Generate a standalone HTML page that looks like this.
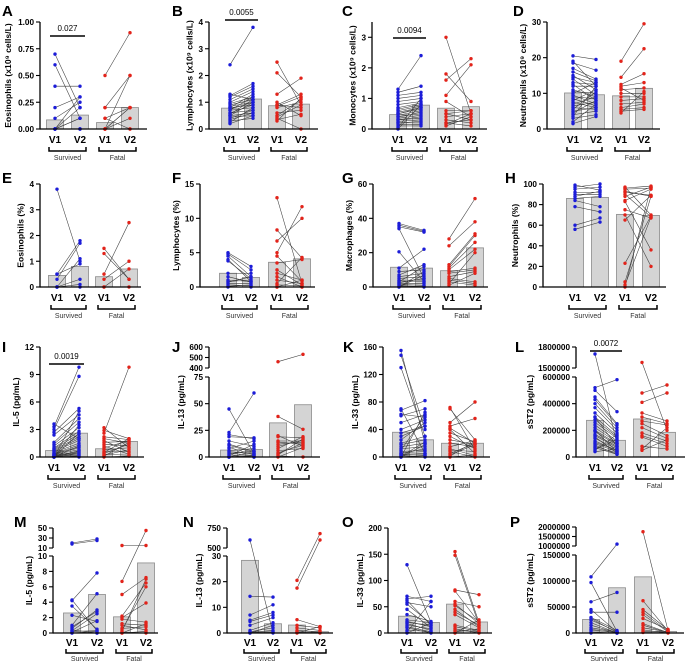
<!DOCTYPE html>
<html><head><meta charset="utf-8"><style>
html,body{margin:0;padding:0;background:#fff;}
svg{display:block;font-family:"Liberation Sans",Arial,sans-serif;}
</style></head><body>
<svg id="fig" width="685" height="666" viewBox="0 0 685 666"></svg>
<script>
// ---- data ----
const groupLabels=["V1","V2","V1","V2"];
const A_bars=[0.085,0.13,0.06,0.2];
const A_s1=[0.7,0.6,0.4,0.2,0.1,0,0,0,0,0,0,0];
const A_s2=[0.2,0.1,0.4,0.3,0.25,0.2,0.1,0,0,0.3,0.1,0];
const A_f1=[0.5,0.2,0.2,0.1,0.1,0,0,0,0,0];
const A_f2=[0.9,0.5,0.2,0,0.2,0.2,0.1,0.2,0.5,0];
const B_bars=[0.78,1.12,0.87,0.93];
const B_s1=[2.4,1.3,1.25,1.2,1.1,1.0,0.95,0.9,0.85,0.8,0.8,0.75,0.7,0.7,0.6,0.6,0.55,0.5,0.5,0.45,0.4,0.35,0.3,0.25,0.2];
const B_s2=[3.8,1.1,1.7,1.6,1.5,1.4,1.2,1.1,1.0,0.9,1.3,1.0,0.8,1.2,0.9,0.7,1.1,0.6,1.0,0.5,0.7,0.6,0.4,0.8,0.5];
const B_f1=[2.5,2.1,1.3,1.0,0.9,0.85,0.8,0.6,0.5,0.45,0.4,0.35,0.3,0.9];
const B_f2=[0.9,1.2,1.9,0.5,1.3,1.2,1.0,0.7,1.1,0.9,0,0.55,1.15,0.8];
const C_bars=[0.47,0.78,0.68,0.73];
const C_s1=[1.3,1.2,1.1,1.0,0.9,0.8,0.7,0.65,0.6,0.55,0.5,0.5,0.45,0.4,0.4,0.35,0.3,0.3,0.25,0.2,0.2,0.15,0.1,0.05,0];
const C_s2=[2.4,1.4,1.2,1.1,1.0,0.9,0.85,0.8,0.75,0.7,0.7,0.65,0.6,0.55,0.5,0.45,0.4,0.35,0.3,0.25,0.2,0.15,0.1,1.0,0.8];
const C_f1=[3.0,1.8,1.6,1.1,0.9,0.6,0.5,0.4,0.3,0.2,0.15,0.1,0.5,0.2];
const C_f2=[0.5,0.9,2.3,2.1,0.4,0.6,0.3,0.5,0.2,0.1,0.5,0.4,0.6,0.3];
const D_bars=[10.1,9.6,9.3,11.4];
const D_s1=[20.5,19,18.5,17,16,15,14.5,14,13,12.5,12,11,10.5,10,9.5,9,8.5,8,7.5,7,6.5,6,5.5,5,4.5,4,3.5,3,2,1.5];
const D_s2=[19.5,12,16.5,14,13.5,11,13,9.5,12.5,8,12,9,10,13,7,8.5,6.5,11,6,9,7.5,5.5,10.5,6,8,5,12,4,7,3.5];
const D_f1=[19,14.5,12.5,12,11.5,11,10,9,8,7,6,5.5,5,4.5];
const D_f2=[29.5,22.5,15.5,13,8,11.5,10,9,8.5,7.5,7,6,5.5,10.5];
const E_bars=[0.45,0.8,0.4,0.7];
const E_s1=[3.8,0.5,0.5,0.3,0,0,0,0];
const E_s2=[1.0,1.8,0.9,1.7,1.1,0.1,0.3,0];
const E_f1=[1.5,1.3,0.5,0.3,0,0];
const E_f2=[0.3,0.3,2.5,1.0,0.7,0];
const F_bars=[2.0,1.4,3.6,4.1];
const F_s1=[5,4.8,4.5,4,3.8,2,1.5,1,0.8,0.7,0.5,0.3,0.1,0];
const F_s2=[3,2.5,1.5,0.8,1.2,2,0.7,0.8,1,1.5,0.5,0.2,0.3,0];
const F_f1=[13,8.3,6.7,5,4.5,3.5,2.5,2,1.5,1,0.5,0.3,0,0];
const F_f2=[0.5,4.2,10,11.7,0.8,4,0.3,1,0,0.5,4.3,0.2,0,1];
const G_bars=[11.5,11,9.5,22.8];
const G_s1=[37,36,35,34,20.5,11,9,7,6,5,4,3.5,3,2.5,2,1.5,1,0.5,0,0];
const G_s2=[33,32.5,32,5,3,22,10,13,8,6,4,3,12,5,2,1,0,0.5,9,7];
const G_f1=[28,24,13,12,11,10,9,8,6,5,4,3,2,1];
const G_f2=[51.5,38,31,30,26,22,11,10,9,3,2,1,20,8];
const H_bars=[86,87,70.5,69.5];
const H_s1=[99,97,95,92,90,88,86,84,78,60,56];
const H_s2=[94,100,97,92,90,93,88,78,73,67,63];
const H_f1=[97,96,95,93,92,90,88,84,83,75,70,65,23,5,2,0];
const H_f2=[70,98,96,88,89,68,97,95,36,67,20,89,69,88,68,97];
const I_bars=[0.7,2.6,0.9,1.7];
const I_s1=[3.6,3.3,3.0,2.7,2.4,1.6,1.4,1.2,1.0,0.9,0.8,0.7,0.6,0.5,0.4,0.35,0.3,0.25,0.2,0.15,0.1,0.1,0.05,0,0,0,0,0,0,0];
const I_s2=[2.0,9.8,8.8,5.3,4.6,4.2,3.8,3.2,2.8,2.5,2.2,2.0,1.8,1.5,1.3,1.1,1.0,0.8,0.6,0.5,0.4,0.3,0.2,0.1,5.0,3.5,1.2,0.7,0,2.6];
const I_f1=[3.2,2.9,2.6,2.2,2.0,1.8,1.6,1.4,1.2,1.0,0.8,0.6,0.5,0.4,0.3,0.2,0.1,0];
const I_f2=[1.0,2.0,9.8,1.9,1.5,0.5,1.7,1.2,0.3,1.8,1.0,0.6,2.0,1.4,0.2,0.8,1.6,0.1];
const J_bars=[6.5,7,32,49];
const J_s1=[45,23,21,19,15,12,11,9,8,6,5,4,3,2,1,0,0,0,0,0];
const J_s2=[3,60,17,18,10,5,4,2,15,8,3,1,6,0,12,0,5,2,1,0];
const J_f1=[460,38,20,19,15,14,12,10,8,6,4,3,2,1,0];
const J_f2=[530,26,10,18,15,12,14,16,19,8,11,13,17,0,9];
const K_bars=[36,25,20,20];
const K_s1=[155,148,130,70,68,62,60,50,40,35,30,25,20,18,15,12,10,8,6,5,4,3,2,1,0,0,0];
const K_s2=[20,40,30,5,82,58,70,62,54,45,45,50,30,25,20,15,60,10,8,12,5,3,0,22,18,2,65];
const K_f1=[72,70,50,45,42,40,35,30,25,20,15,12,10,8,5,3,1,0];
const K_f2=[10,25,80,56,20,5,22,12,18,15,24,2,8,0,20,18,23,3];
const L_bars=[275000,125000,285000,185000];
const L_s1=[1700000,520000,500000,450000,430000,400000,370000,330000,300000,280000,260000,240000,220000,200000,190000,170000,160000,140000,120000,100000,80000,70000,60000,50000,40000,300000,200000,150000,110000,90000];
const L_s2=[100000,580000,340000,250000,240000,220000,200000,180000,160000,150000,140000,120000,110000,100000,90000,80000,70000,60000,50000,40000,30000,20000,130000,170000,60000,80000,40000,30000,50000,20000];
const L_f1=[1580000,480000,410000,330000,300000,270000,250000,220000,180000,160000,150000,80000,60000,50000];
const L_f2=[200000,540000,480000,270000,250000,240000,160000,140000,120000,100000,80000,60000,220000,130000];
const M_bars=[2.6,5.0,2.1,9.1];
const M_s1=[20,18,4.3,4.2,3.5,2.3,1.0,0.8,0.6,0.4,0.3,0.2,0.1,0,0];
const M_s2=[28,25,0.3,7.8,0.5,1.5,5.1,2.8,3.0,0,2.5,0.3,1.6,0.2,0];
const M_f1=[15,6.7,5.0,2.2,2.0,1.8,1.2,1.0,0.6,0.4,0.2,0.1,0,0];
const M_f2=[15,45,7.2,6.5,3.9,1.4,1.0,0.4,0.8,6.0,7.0,0,0.2,1.2];
const N_bars=[28.3,3.6,3.1,0.5];
const N_s1=[600,14.3,7,5,4.5,3,1,0.5,0.3,0.2,0,0];
const N_s2=[0,14,11,8,7,6,4,2,1,0.5,3,0.3];
const N_f1=[20.5,17.5,5.2,3,2,1,0.5,0.3,0.1,0];
const N_f2=[680,600,2.5,2,1,0.5,0.3,0.1,2.5,0];
const O_bars=[32,20,55,21];
const O_s1=[130,70,65,62,58,55,45,35,25,22,20,18,15,12,10,5,2,0];
const O_s2=[20,60,70,15,50,18,10,22,20,12,15,5,8,2,0,3,60,19];
const O_f1=[155,148,82,80,60,55,52,45,40,35,15,12,8,5,2,0];
const O_f2=[20,15,73,20,50,18,22,12,15,10,5,3,0,2,8,25];
const P_bars=[26000,87000,108000,3000];
const P_s1=[108000,97000,60000,45000,40000,30000,28000,25000,20000,15000,10000,7000,5000,2000,0];
const P_s2=[1100000,3000,78000,2000,40000,5000,1000,3000,0,500,2000,1500,1000,0,0];
const P_f1=[1750000,62000,45000,40000,35000,28000,18000,15000,10000,6000,3000,1000];
const P_f2=[5000,4000,6000,3000,2000,7000,1000,500,2000,0,3000,1000];
// tick labels
const A_ticks=[0,0.25,0.5,0.75,1.0], A_tl=["0.00","0.25","0.50","0.75","1.00"];
const B_ticks=[0,1,2,3,4];
const C_ticks=[0,1,2,3];
const D_ticks=[0,10,20,30];
const E_ticks=[0,1,2,3,4];
const F_ticks=[0,5,10,15];
const G_ticks=[0,20,40,60];
const H_ticks=[0,20,40,60,80,100];
const I_ticks=[0,3,6,9,12];
const J_ticks=[0,25,50,75,400,500,600];
const K_ticks=[0,40,80,120,160];
const L_ticks=[0,200000,400000,600000,1500000,1800000];
const M_ticks=[0,2,4,6,8,10,10.0001,30,50], M_tl=["0","2","4","6","8","10","10","30","50"];
const N_ticks=[0,10,20,30,500,750];
const O_ticks=[0,50,100,150,200];
const P_ticks=[0,50000,100000,150000,1000000,1500000,2000000];

const rows=[[22,129],[184,287],[347,457],[528,633]];
const letterY=[16,183,352,527];
const panels=[
 {id:"A",r:0,lx:2,ax:40,cx:[55,80,105,130],end:147,max:1,ticks:A_ticks,tl:A_tl,title:"Eosinophils (x10⁹ cells/L)",bars:A_bars,s1:A_s1,s2:A_s2,f1:A_f1,f2:A_f2,sig:["0.027",36]},
 {id:"B",r:0,lx:172,ax:209,cx:[230,253,277,301],end:318,max:4,ticks:B_ticks,title:"Lymphocytes (x10⁹ cells/L)",bars:B_bars,s1:B_s1,s2:B_s2,f1:B_f1,f2:B_f2,sig:["0.0055",20]},
 {id:"C",r:0,lx:342,ax:372,cx:[398,421,446,471],end:487,max:3.5,ticks:C_ticks,title:"Monocytes (x10⁹ cells/L)",bars:C_bars,s1:C_s1,s2:C_s2,f1:C_f1,f2:C_f2,sig:["0.0094",38]},
 {id:"D",r:0,lx:513,ax:547,cx:[573,596,621,644],end:660,max:30,ticks:D_ticks,title:"Neutrophils (x10⁹ cells/L)",bars:D_bars,s1:D_s1,s2:D_s2,f1:D_f1,f2:D_f2},
 {id:"E",r:1,lx:2,ax:40,cx:[57,80,104,129],end:141,max:4,ticks:E_ticks,title:"Eosinophils (%)",bars:E_bars,s1:E_s1,s2:E_s2,f1:E_f1,f2:E_f2},
 {id:"F",r:1,lx:172,ax:200,cx:[228,251,277,302],end:315,max:15,ticks:F_ticks,title:"Lymphocytes (%)",bars:F_bars,s1:F_s1,s2:F_s2,f1:F_f1,f2:F_f2},
 {id:"G",r:1,lx:342,ax:373,cx:[399,424,449,475],end:488,max:60,ticks:G_ticks,title:"Macrophages (%)",bars:G_bars,s1:G_s1,s2:G_s2,f1:G_f1,f2:G_f2},
 {id:"H",r:1,lx:505,ax:543,cx:[575,600,625,651],end:666,max:100,ticks:H_ticks,title:"Neutrophils (%)",bars:H_bars,s1:H_s1,s2:H_s2,f1:H_f1,f2:H_f2},
 {id:"I",r:2,lx:2,ax:40,cx:[54,79,104,129],end:144,max:12,ticks:I_ticks,title:"IL-5 (pg/mL)",bars:I_bars,s1:I_s1,s2:I_s2,f1:I_f1,f2:I_f2,sig:["0.0019",364]},
 {id:"J",r:2,lx:172,ax:209,cx:[229,254,278,303],end:320,seg:[[0,75,457,377],[400,600,368,347]],ticks:J_ticks,title:"IL-13 (pg/mL)",bars:J_bars,s1:J_s1,s2:J_s2,f1:J_f1,f2:J_f2},
 {id:"K",r:2,lx:343,ax:383,cx:[401,425,450,475],end:490,max:160,ticks:K_ticks,title:"IL-33 (pg/mL)",bars:K_bars,s1:K_s1,s2:K_s2,f1:K_f1,f2:K_f2},
 {id:"L",r:2,lx:515,ax:576,cx:[595,617,642,667],end:685,seg:[[0,600000,457,377],[1500000,1800000,368,347]],ticks:L_ticks,title:"sST2 (pg/mL)",bars:L_bars,s1:L_s1,s2:L_s2,f1:L_f1,f2:L_f2,sig:["0.0072",351]},
 {id:"M",r:3,lx:14,ax:53,cx:[72,97,122,146],end:158,seg:[[0,10,633,556],[10,50,548,528]],ticks:M_ticks,tl:M_tl,title:"IL-5 (pg/mL)",bars:M_bars,s1:M_s1,s2:M_s2,f1:M_f1,f2:M_f2},
 {id:"N",r:3,lx:183,ax:227,cx:[250,273,297,320],end:333,seg:[[0,30,633,556],[500,750,548,528]],ticks:N_ticks,title:"IL-13 (pg/mL)",bars:N_bars,s1:N_s1,s2:N_s2,f1:N_f1,f2:N_f2},
 {id:"O",r:3,lx:342,ax:388,cx:[407,431,455,479],end:492,max:200,ticks:O_ticks,title:"IL-33 (pg/mL)",bars:O_bars,s1:O_s1,s2:O_s2,f1:O_f1,f2:O_f2},
 {id:"P",r:3,lx:510,ax:576,cx:[591,617,643,668],end:684,seg:[[0,150000,633,555],[1000000,2000000,546,527]],ticks:P_ticks,title:"sST2 (pg/mL)",bars:P_bars,s1:P_s1,s2:P_s2,f1:P_f1,f2:P_f2}
];
const NS="http://www.w3.org/2000/svg";
const svg=document.getElementById("fig");
function mk(tag,attrs,parent,text){const e=document.createElementNS(NS,tag);for(const k in attrs)e.setAttribute(k,attrs[k]);if(text!==undefined)e.textContent=text;(parent||svg).appendChild(e);return e;}
function scaleFor(p){
  const [top,bot]=rows[p.r];
  const segs=p.seg||[[0,p.max,bot,top]];
  return function(v){
    for(let i=0;i<segs.length;i++){const s=segs[i];
      if(v<=s[1]||i===segs.length-1){ if(i>0&&v<s[0]) v=s[0]; return s[2]+(Math.min(v,s[1])-s[0])/(s[1]-s[0])*(s[3]-s[2]);}
    }
  };
}
panels.forEach(p=>{
  const g=mk("g",{});
  
  
  const y=scaleFor(p);
  const [top,bot]=rows[p.r];
  const segs=p.seg||[[0,p.max,bot,top]];
  const lt=mk("text",{x:p.lx,y:letterY[p.r],"font-size":15,"font-weight":"bold"},g,p.id);
  
  
  const labels=p.ticks.map((t,i)=>p.tl?p.tl[i]:String(t));
  const maxLen=Math.max(...labels.map(s=>s.length));
  const ym=(top+bot)/2;
  const tx0=Math.max(11,p.ax-(maxLen*4.4+12));
  const tt=mk("text",{x:0,y:0,"font-size":8.6,"font-weight":"bold","text-anchor":"middle",transform:`translate(${tx0},${ym}) rotate(-90)`},g,p.title);
  
  
  const bw=17;
  p.bars.forEach((v,i)=>{
    const yy=y(v);
    const b=mk("rect",{x:p.cx[i]-bw/2,y:yy,width:bw,height:bot-yy,fill:"#d4d4d4",stroke:"#8a8a8a","stroke-width":0.8},g);
    
    
  });
  [[p.s1,p.s2,0,"#1c1cd8"],[p.f1,p.f2,2,"#e2231a"]].forEach(([a,b,k,col])=>{
    a.forEach((v,i)=>{ if(b[i]===undefined)return;
      const l=mk("line",{x1:p.cx[k],y1:y(v),x2:p.cx[k+1],y2:y(b[i]),stroke:"#3a3a3a","stroke-width":0.55},g);
      
      
    });
    [a,b].forEach((arr,j)=>arr.forEach(v=>{
      const c=mk("circle",{cx:p.cx[k+j],cy:y(v),r:1.7,fill:col},g);
      
      
    }));
  });
  segs.forEach(s=>{
    const al=mk("line",{x1:p.ax,y1:s[2]+(s===segs[0]?0.6:0),x2:p.ax,y2:s[3],stroke:"#000","stroke-width":1.3},g);
    
    
  });
  const xl=mk("line",{x1:p.ax,y1:bot,x2:p.end,y2:bot,stroke:"#000","stroke-width":1.3},g);
  
  
  p.ticks.forEach((t,i)=>{
    const yy=y(t);
    mk("line",{x1:p.ax-4,y1:yy,x2:p.ax,y2:yy,stroke:"#000","stroke-width":1.1},g);
    const tx=mk("text",{x:p.ax-6,y:yy+3,"font-size":8.2,"font-weight":"bold","text-anchor":"end"},g,labels[i]);
    
    
  });
  const last=p.r===3;
  p.cx.forEach((c,i)=>{
    const t=mk("text",{x:c,y:bot+(last?13:14),"font-size":10,"font-weight":"bold","text-anchor":"middle"},g,groupLabels[i]);
    
    
  });
  [["Survived",0],["Fatal",2]].forEach(([name,k])=>{
    const by=bot+(last?20:22);
    mk("path",{d:`M${p.cx[k]-6},${by-4}V${by}H${p.cx[k+1]+6}V${by-4}`,fill:"none",stroke:"#000","stroke-width":1.5},g);
    const t=mk("text",{x:(p.cx[k]+p.cx[k+1])/2,y:by+(last?8:9),"font-size":7,"text-anchor":"middle",fill:"#333"},g,name);
    
    
  });
  if(p.sig){
    const sy=p.sig[1];
    mk("line",{x1:p.cx[0]-5,y1:sy,x2:p.cx[1]+5,y2:sy,stroke:"#000","stroke-width":1.6},g);
    const st=mk("text",{x:(p.cx[0]+p.cx[1])/2,y:sy-5,"font-size":8,"text-anchor":"middle"},g,p.sig[0]);
    
    
  }
});
</script>
</body></html>
